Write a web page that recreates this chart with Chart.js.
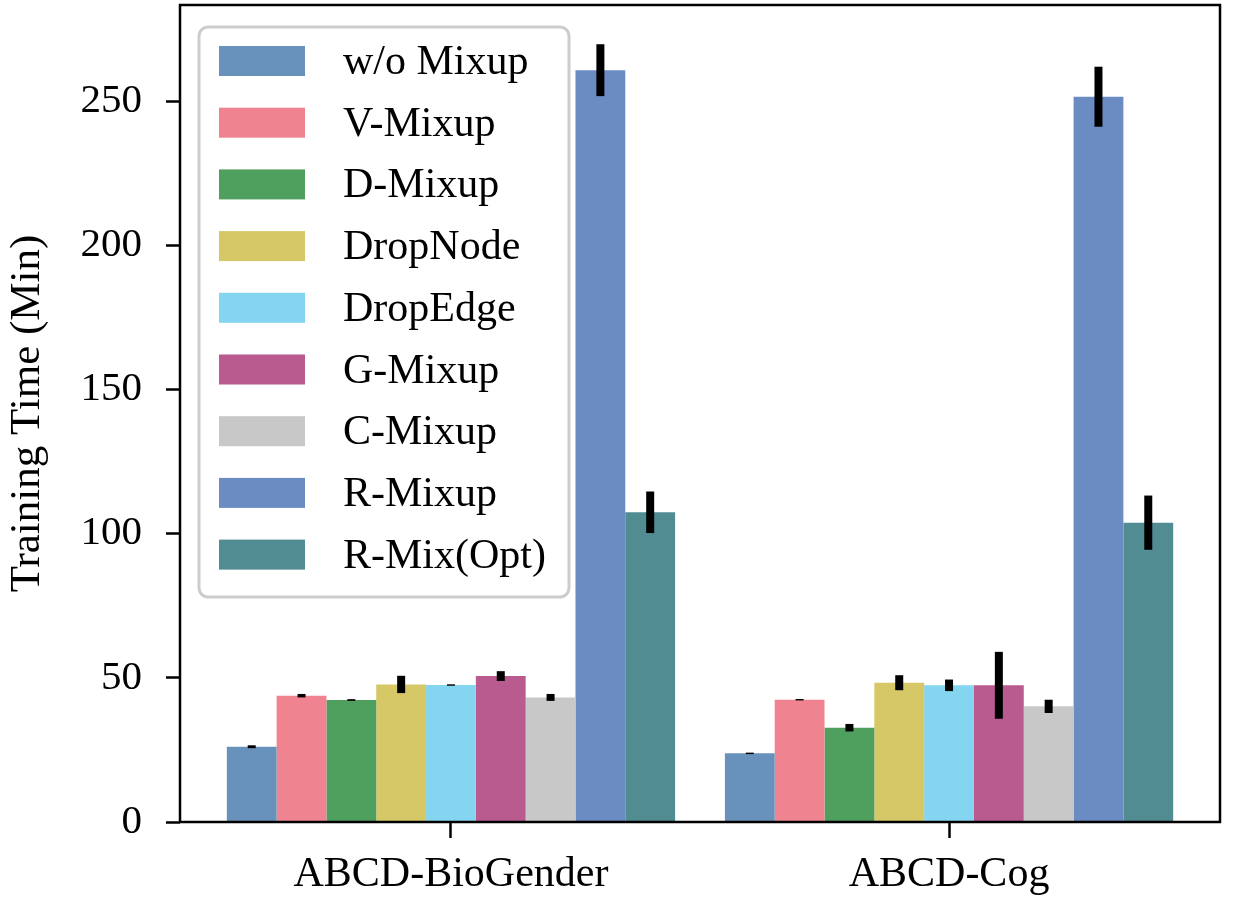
<!DOCTYPE html>
<html>
<head>
<meta charset="utf-8">
<script src="https://cdn.jsdelivr.net/npm/chart.js@4"></script>
<style>
  html, body { margin: 0; padding: 0; background: #fff; }
  #wrap { width: 1233px; height: 903px; }
</style>
</head>
<body>
<div id="wrap"><canvas id="chart"></canvas></div>
<script>
// --- data ---
const categories = ['ABCD-BioGender', 'ABCD-Cog'];
const methods = ['w/o Mixup', 'V-Mixup', 'D-Mixup', 'DropNode', 'DropEdge', 'G-Mixup', 'C-Mixup', 'R-Mixup', 'R-Mix(Opt)'];
const colors = ['#6892bb', '#ef8490', '#4f9f5e', '#d6c767', '#84d5ef', '#b95b8f', '#c8c8c8', '#6b8bc3', '#508c92'];

const bioGenderTime = [26.1, 43.8, 42.3, 47.7, 47.5, 50.6, 43.2, 260.7, 107.4];
const bioGenderErr  = [0.5, 0.6, 0.3, 3.0, 0.2, 1.7, 1.2, 9.0, 7.2];
const cogTime       = [23.8, 42.4, 32.7, 48.3, 47.4, 47.4, 40.1, 251.5, 103.8];
const cogErr        = [0.2, 0.2, 1.3, 2.6, 2.0, 11.6, 2.3, 10.4, 9.4];

const yTicks = [0, 50, 100, 150, 200, 250];

const FONT = '"Liberation Serif", "Times New Roman", serif';

const datasets = methods.map((name, i) => ({
    label: name,
    data: [{ x: 0, y: bioGenderTime[i] }, { x: 1, y: cogTime[i] }],
    errors: [bioGenderErr[i], cogErr[i]],
    backgroundColor: colors[i],
    borderWidth: 0,
    categoryPercentage: 0.9,
    barPercentage: 1.0
}));

// error bars (no caps, thick black)
const errorBars = {
    id: 'errorBars',
    afterDatasetsDraw(chart) {
        const ctx = chart.ctx;
        const y = chart.scales.y;
        ctx.save();
        ctx.strokeStyle = '#000';
        ctx.lineWidth = 8;
        chart.data.datasets.forEach((ds, i) => {
            const meta = chart.getDatasetMeta(i);
            meta.data.forEach((bar, j) => {
                const v = ds.data[j].y, e = Math.max(ds.errors[j], 0.25);
                ctx.beginPath();
                ctx.moveTo(bar.x, y.getPixelForValue(v + e));
                ctx.lineTo(bar.x, y.getPixelForValue(v - e));
                ctx.stroke();
            });
        });
        ctx.restore();
    }
};

// frame + legend drawn inside the plot
const frameAndLegend = {
    id: 'frameAndLegend',
    afterDraw(chart) {
        const ctx = chart.ctx;
        const a = chart.chartArea;
        ctx.save();
        ctx.strokeStyle = '#000';
        ctx.lineWidth = 2.5;
        ctx.strokeRect(a.left, a.top, a.right - a.left, a.bottom - a.top);

        // legend box
        const bx = 199, by = 27, bw = 370, bh = 570, r = 9;
        ctx.beginPath();
        ctx.roundRect(bx, by, bw, bh, r);
        ctx.fillStyle = 'rgba(255,255,255,0.9)';
        ctx.fill();
        ctx.strokeStyle = '#cccccc';
        ctx.lineWidth = 3;
        ctx.stroke();

        ctx.font = '42px ' + FONT;
        ctx.textBaseline = 'middle';
        ctx.textAlign = 'left';
        methods.forEach((name, i) => {
            const cy = 61 + i * 61.7;
            ctx.fillStyle = colors[i];
            ctx.fillRect(219, cy - 15, 86, 30);
            ctx.fillStyle = '#000';
            ctx.fillText(name, 343, cy + 2);
        });
        ctx.restore();
    }
};

new Chart(document.getElementById('chart'), {
    type: 'bar',
    data: { datasets },
    options: {
        responsive: true,
        maintainAspectRatio: false,
        animation: false,
        layout: { padding: { top: 5, right: 13, left: 0, bottom: 0 } },
        plugins: { legend: { display: false }, tooltip: { enabled: false } },
        scales: {
            x: {
                type: 'linear',
                offset: false,
                min: -0.544,
                max: 1.544,
                afterBuildTicks: s => { s.ticks = categories.map((c, i) => ({ value: i })); },
                afterFit: s => { s.height = 81; s.paddingLeft = 0; s.paddingRight = 0; },
                border: { display: false },
                grid: { drawOnChartArea: false, drawTicks: true, tickLength: 16, tickWidth: 2.5, color: '#000', offset: false },
                ticks: {
                    callback: v => categories[v] ?? '',
                    color: '#000',
                    font: { family: FONT, size: 42 },
                    padding: 12,
                    maxRotation: 0,
                    autoSkip: false
                }
            },
            y: {
                min: 0,
                max: 283.3,
                afterBuildTicks: s => { s.ticks = yTicks.map(v => ({ value: v })); },
                afterFit: s => { s.width = 180; s.paddingTop = 0; s.paddingBottom = 0; },
                border: { display: false },
                grid: { drawOnChartArea: false, drawTicks: true, tickLength: 14, tickWidth: 2.5, color: '#000' },
                ticks: {
                    color: '#000',
                    font: { family: FONT, size: 41 },
                    padding: 24
                },
                title: {
                    display: true,
                    text: 'Training Time (Min)',
                    color: '#000',
                    font: { family: FONT, size: 43 },
                    padding: { top: 2, bottom: 0 }
                }
            }
        }
    },
    plugins: [errorBars, frameAndLegend]
});
</script>
</body>
</html>
